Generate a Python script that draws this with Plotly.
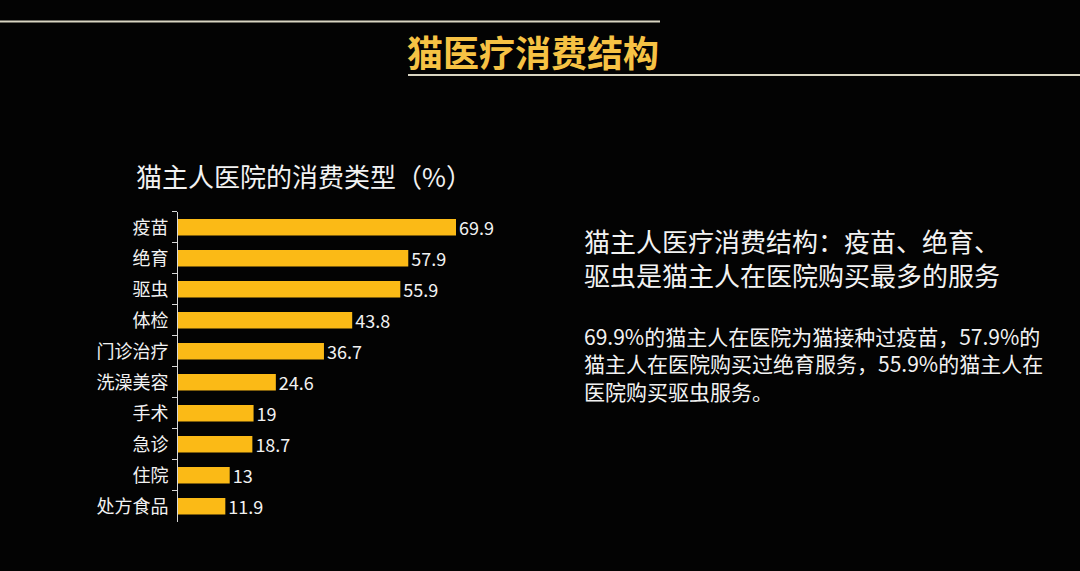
import plotly.graph_objects as go

W, H = 1080, 571

categories = ["疫苗", "绝育", "驱虫", "体检", "门诊治疗", "洗澡美容", "手术", "急诊", "住院", "处方食品"]
values = [69.9, 57.9, 55.9, 43.8, 36.7, 24.6, 19, 18.7, 13, 11.9]
value_labels = [f"{v:g}" for v in values]

page_title = "猫医疗消费结构"
chart_title = "猫主人医院的消费类型（%）"
heading_lines = ["猫主人医疗消费结构：疫苗、绝育、", "驱虫是猫主人在医院购买最多的服务"]
body_lines = [
    "69.9%的猫主人在医院为猫接种过疫苗，57.9%的",
    "猫主人在医院购买过绝育服务，55.9%的猫主人在",
    "医院购买驱虫服务。",
]

FONT = "Noto Sans CJK SC, Microsoft YaHei, sans-serif"
BAR = "#FBBA16"
TXT = "#F2F2F2"
GOLD = "#F6C244"
LINE = "#D9D5C2"


def px(x):
    return x / W


def py(y):
    return 1 - y / H


# plot area in pixels
x0, x1 = 178, 560
y_top, y_bot = 211.7, 521.7
px_per_unit = (456 - 178) / 69.9

fig = go.Figure(
    go.Bar(
        x=values,
        y=categories,
        orientation="h",
        marker=dict(color=BAR, line=dict(width=0)),
        text=value_labels,
        textposition="outside",
        constraintext="none",
        textfont=dict(family=FONT, size=18, color=TXT),
        cliponaxis=False,
        hoverinfo="skip",
    )
)

fig.update_layout(
    width=W,
    height=H,
    margin=dict(l=0, r=0, t=0, b=0),
    paper_bgcolor="#030303",
    plot_bgcolor="rgba(0,0,0,0)",
    showlegend=False,
    bargap=0.47,
    font=dict(family=FONT, color=TXT),
    xaxis=dict(
        domain=[px(x0), px(x1)],
        range=[0, (x1 - x0) / px_per_unit],
        visible=False,
        fixedrange=True,
    ),
    yaxis=dict(
        domain=[py(y_bot), py(y_top)],
        autorange="reversed",
        type="category",
        showline=True,
        linecolor="#D8D8D8",
        linewidth=1,
        ticks="outside",
        tickson="boundaries",
        ticklen=5,
        tickcolor="#D8D8D8",
        tickwidth=1,
        showgrid=False,
        zeroline=False,
        tickfont=dict(family=FONT, size=18, color=TXT),
        ticklabelstandoff=5,
        fixedrange=True,
    ),
)

shapes = [
    dict(type="line", xref="paper", yref="paper", x0=px(0), x1=px(660), y0=py(21.5), y1=py(21.5),
         line=dict(color=LINE, width=2)),
    dict(type="line", xref="paper", yref="paper", x0=px(408), x1=px(1080), y0=py(75), y1=py(75),
         line=dict(color=LINE, width=2)),
]
fig.update_layout(shapes=shapes)

annotations = [
    dict(text=f"<b>{page_title}</b>", x=px(533), y=py(51), xanchor="center", yanchor="middle",
         font=dict(family=FONT, size=36, color=GOLD)),
    dict(text=chart_title, x=px(134), y=py(175), xanchor="left", yanchor="middle",
         font=dict(family=FONT, size=26, color=TXT)),
    dict(text="<br>".join(heading_lines), x=px(582), y=py(257), xanchor="left", yanchor="middle",
         align="left", font=dict(family=FONT, size=26, color=TXT)),
    dict(text="<br>".join(body_lines), x=px(582), y=py(363), xanchor="left", yanchor="middle",
         align="left", font=dict(family=FONT, size=21, color=TXT)),
]
for a in annotations:
    a.update(xref="paper", yref="paper", showarrow=False)
fig.update_layout(annotations=annotations)

fig.write_html("out.html")
